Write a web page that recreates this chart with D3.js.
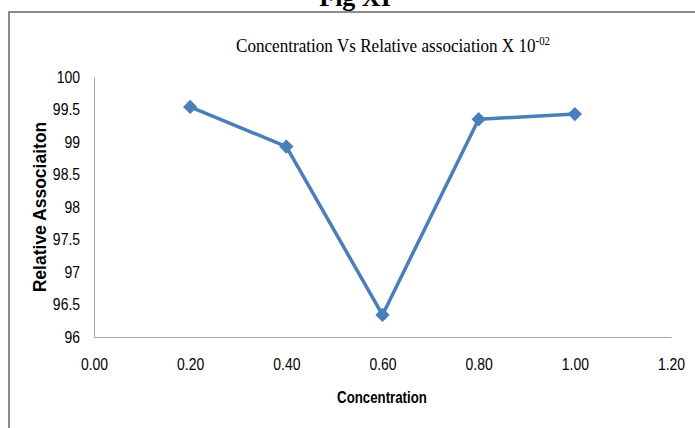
<!DOCTYPE html>
<html>
<head>
<meta charset="utf-8">
<script src="https://cdn.jsdelivr.net/npm/d3@7"></script>
<style>
  body { margin: 0; background: #fff; }
  .axis text { font-family: "Liberation Sans", Arial, sans-serif; font-size: 17px; fill: #000; }
  .axis path { stroke: #a6a6a6; }
</style>
</head>
<body>
<svg width="695" height="428"></svg>
<script>
var concentration = [0.20, 0.40, 0.60, 0.80, 1.00];
var association = [99.54, 98.93, 96.34, 99.35, 99.43];
var xTicks = [0, 0.2, 0.4, 0.6, 0.8, 1.0, 1.2];
var yTicks = [96, 96.5, 97, 97.5, 98, 98.5, 99, 99.5, 100];

var svg = d3.select("svg"),
    margin = {top: 77, right: 24, bottom: 91, left: 94},
    width = +svg.attr("width") - margin.left - margin.right,
    height = +svg.attr("height") - margin.top - margin.bottom;

// the scan uses a narrow font, squeeze text horizontally
function narrow(sel, k) {
  sel.each(function() {
    var w = this.getComputedTextLength();
    d3.select(this).attr("textLength", w * k).attr("lengthAdjust", "spacingAndGlyphs");
  });
}

// outer frame (top + left edges only show in the scan)
svg.append("line")
    .attr("x1", 8).attr("x2", 695).attr("y1", 12).attr("y2", 12)
    .attr("stroke", "#8c8c8c").attr("stroke-width", 2);
svg.append("line")
    .attr("x1", 9).attr("x2", 9).attr("y1", 11).attr("y2", 428)
    .attr("stroke", "#8c8c8c").attr("stroke-width", 2);

svg.append("text")
    .attr("x", 355).attr("y", 6)
    .attr("text-anchor", "middle")
    .attr("font-family", "Liberation Serif, serif")
    .attr("font-weight", "bold")
    .attr("font-size", 26)
    .text("Fig XI");

// title squeezed with a scale so its box stays honest
var tg = svg.append("g");
var title = tg.append("text")
    .attr("font-family", "Liberation Serif, serif")
    .attr("font-size", 19);
title.append("tspan").text("Concentration Vs Relative association  X 10");
title.append("tspan").attr("dy", -7).attr("font-size", 12).text("-02");
var tw = title.node().getComputedTextLength();
tg.attr("transform", "translate(236,52) scale(" + (314 / tw) + ",1)");

var g = svg.append("g").attr("transform", "translate(" + margin.left + "," + margin.top + ")");

var x = d3.scaleLinear().domain([0, 1.2]).range([0, width]);
var y = d3.scaleLinear().domain([96, 100]).range([height, 0]);

g.append("g")
    .attr("class", "axis")
    .attr("transform", "translate(0," + height + ")")
    .call(d3.axisBottom(x).tickValues(xTicks).tickSize(0).tickPadding(21).tickFormat(d3.format(".2f")))
    .selectAll("text").call(narrow, 0.82);

g.append("g")
    .attr("class", "axis")
    .call(d3.axisLeft(y).tickValues(yTicks).tickSize(0).tickPadding(14).tickFormat(function(d) { return d; }))
    .selectAll("text").call(narrow, 0.82);

svg.append("text")
    .attr("x", 382).attr("y", 403)
    .attr("text-anchor", "middle")
    .attr("font-family", "\"Liberation Sans\", Arial, sans-serif")
    .attr("font-weight", "bold")
    .attr("font-size", 17)
    .text("Concentration")
    .call(narrow, 0.78);

svg.append("text")
    .attr("transform", "translate(46,207) rotate(-90)")
    .attr("text-anchor", "middle")
    .attr("font-family", "\"Liberation Sans\", Arial, sans-serif")
    .attr("font-weight", "bold")
    .attr("font-size", 17.5)
    .text("Relative Associaiton");

var data = concentration.map(function(c, i) { return {c: c, v: association[i]}; });

var line = d3.line()
    .x(function(d) { return x(d.c); })
    .y(function(d) { return y(d.v); });

g.append("path")
    .datum(data)
    .attr("fill", "none")
    .attr("stroke", "#4a7ebb")
    .attr("stroke-width", 3.5)
    .attr("stroke-linejoin", "round")
    .attr("d", line);

g.selectAll(".dot")
    .data(data)
    .enter().append("path")
      .attr("class", "dot")
      .attr("transform", function(d) { return "translate(" + x(d.c) + "," + y(d.v) + ")"; })
      .attr("d", d3.symbol().type(d3.symbolDiamond2).size(130))
      .attr("fill", "#4a7ebb");
</script>
</body>
</html>
